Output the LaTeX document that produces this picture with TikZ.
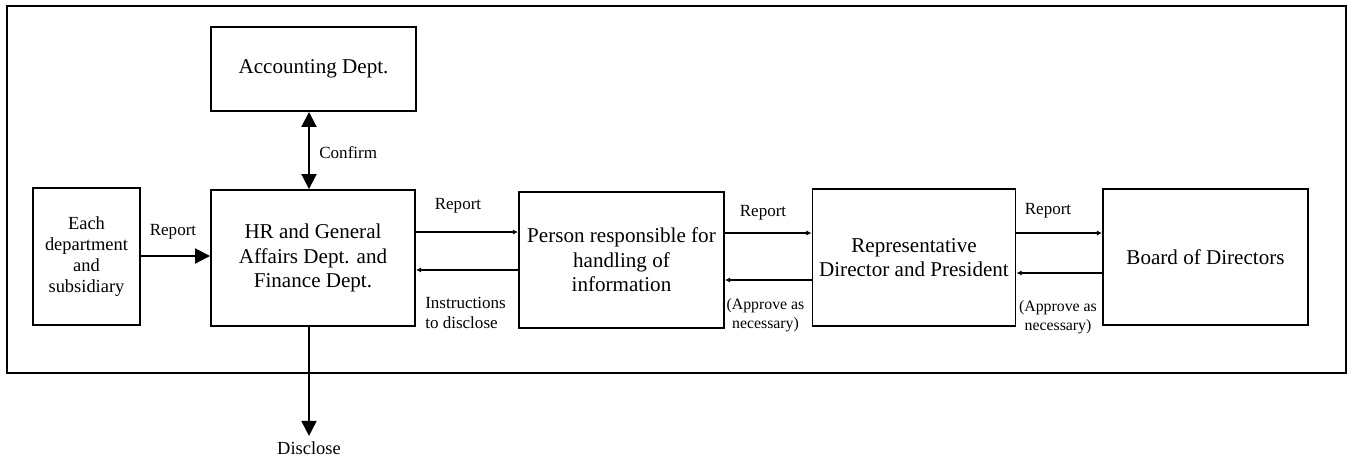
\documentclass[tikz,border=0pt]{standalone}
\usepackage{fontspec}
\setmainfont{Liberation Serif}
\usepackage{tikz}
\usetikzlibrary{arrows.meta}

\begin{document}
\begin{tikzpicture}[x=0.02cm, y=-0.02cm,
			box/.style={draw, line width=1.1pt, align=center, inner sep=0pt,
				font=\fontsize{12}{13.8}\selectfont},
			lbl/.style={inner sep=0pt, align=center,
				font=\fontsize{9.7}{11.3}\selectfont},
			apv/.style={inner sep=0pt, align=center,
				font=\fontsize{9}{10.8}\selectfont},
			bigarr/.style={line width=1.1pt, -{Triangle[length=0.3cm, width=0.3cm]}},
			bothbig/.style={line width=1.1pt,
				{Triangle[length=0.3cm, width=0.3cm]}-{Triangle[length=0.3cm, width=0.3cm]}},
			smallarr/.style={line width=1.1pt, -{Latex[length=3pt, width=3pt]}}]
			
			\useasboundingbox (0,0) rectangle (1352,461);
			\draw[line width=1.1pt] (7,6) rectangle (1346,373);
			
			\node[box, minimum width=4.1cm, minimum height=1.68cm] (acct) at (313.5,69) {Accounting Dept.};
			\node[box, minimum width=2.14cm, minimum height=2.74cm,
				font=\fontsize{10.5}{11.9}\selectfont] (each) at (86.5,256.5) {Each\\department\\and\\subsidiary};
			\node[box, minimum width=4.08cm, minimum height=2.72cm] (hr) at (313,258) {HR and General\\Affairs Dept. and\\Finance Dept.};
			\node[box, minimum width=4.1cm, minimum height=2.72cm,
				font=\fontsize{12}{14}\selectfont] (per) at (621.5,260) {Person responsible for\\handling of\\information};
			\node[box, minimum width=4.06cm, minimum height=2.74cm] (rep) at (914,257.5) {Representative\\Director and President};
			\node[box, minimum width=4.1cm, minimum height=2.72cm] (board) at (1205.5,257) {Board of Directors};
			
			% labels
			\node[lbl] (rep0) at (173,232) {Report};
			\node[lbl] (rep1) at (458,206) {Report};
			\node[lbl, align=left] (instr) at (465.5,313) {Instructions\\to disclose};
			\node[lbl] (rep2) at (763,213) {Report};
			\node[apv] (apv1) at (765.5,315.5) {(Approve as\\necessary)};
			\node[lbl] (rep3) at (1048,211) {Report};
			\node[apv] (apv2) at (1058,317) {(Approve as\\necessary)};
			\node[lbl, anchor=west] (conf) at (319,153) {Confirm};
			\node[lbl, inner sep=3pt, font=\fontsize{10.5}{12}\selectfont] (disc) at (309,448) {Disclose};
			
			% connectors
			\draw[bothbig] (acct.south -| 309,0) -- (hr.north -| 309,0);
			\draw[bigarr] (hr.south -| 309,0) -- (disc.north);
			\draw[bigarr] (each.east |- 0,256) -- (hr.west |- 0,256);
			\draw[smallarr] (hr.east |- 0,232) -- (per.west |- 0,232);
			\draw[smallarr] (per.west |- 0,270) -- (hr.east |- 0,270);
			\draw[smallarr] (per.east |- 0,233) -- (rep.west |- 0,233);
			\draw[smallarr] (rep.west |- 0,280) -- (per.east |- 0,280);
			\draw[smallarr] (rep.east |- 0,233) -- (board.west |- 0,233);
			\draw[smallarr] (board.west |- 0,273) -- (rep.east |- 0,273);
		\end{tikzpicture}
\end{document}
